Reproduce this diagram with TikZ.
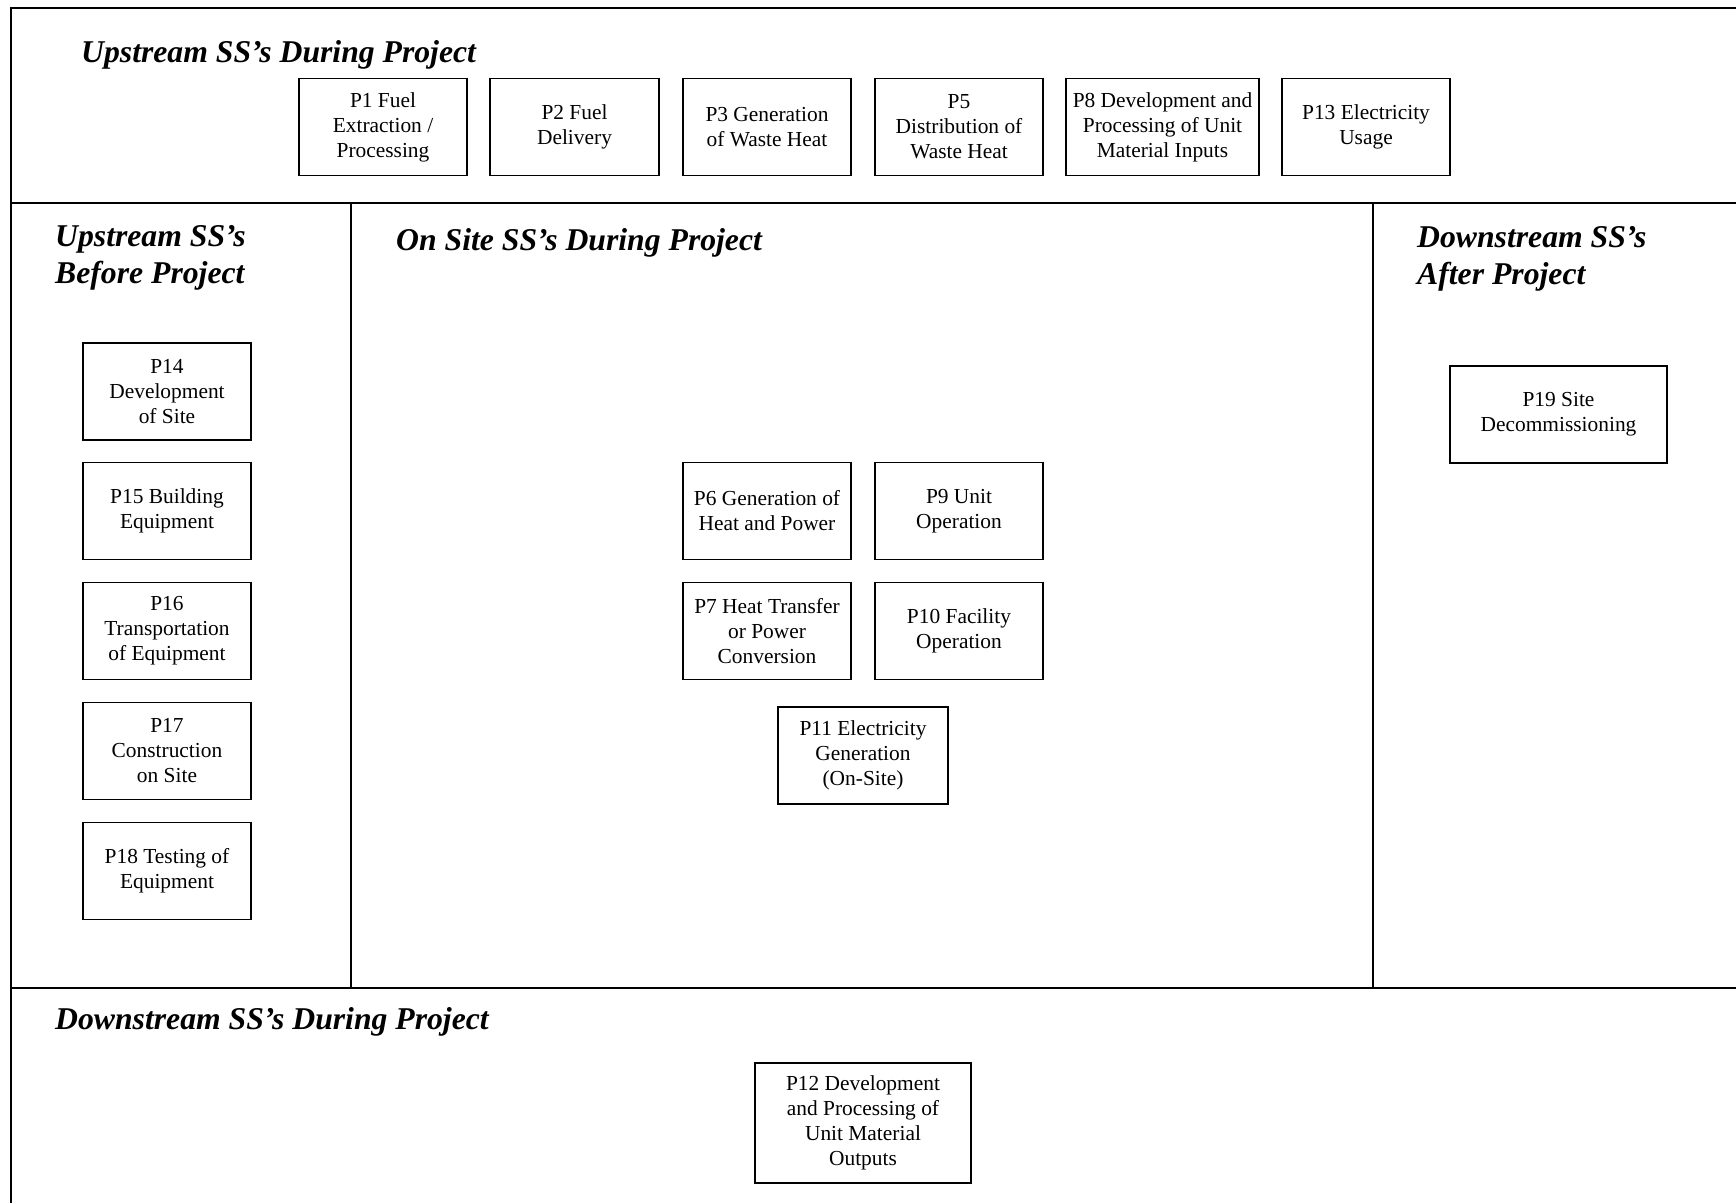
\documentclass[tikz,border=0pt]{standalone}
\usepackage{fontspec}
\setmainfont{Liberation Serif}
\begin{document}
\begin{tikzpicture}[x=1pt,y=-1pt,
  pbox/.style={draw, line width=1.8pt, align=center, inner sep=2pt,
    minimum width=168, minimum height=97,
    font=\fontsize{21.4}{25}\selectfont},
  heading/.style={anchor=base west, align=left, inner sep=0pt,
    font=\fontsize{31.7}{36.5}\selectfont\bfseries\itshape},
  frameline/.style={line width=2pt}]
\useasboundingbox (0,0) rectangle (1736,1203);
% frame coordinates
\coordinate (tl) at (11,7.7);
\coordinate (tr) at (1736,7.7);
\coordinate (bl) at (11,1203);
\coordinate (ml) at (11,202.6);
\coordinate (mr) at (1736,202.6);
\coordinate (ll) at (11,987.5);
\coordinate (lr) at (1736,987.5);
\coordinate (v1t) at (351,202.6);
\coordinate (v1b) at (351,987.5);
\coordinate (v2t) at (1373,202.6);
\coordinate (v2b) at (1373,987.5);
\draw[frameline] (tr) -- (tl) -- (bl);
\draw[frameline] (ml) -- (mr);
\draw[frameline] (ll) -- (lr);
\draw[frameline] (v1t) -- (v1b);
\draw[frameline] (v2t) -- (v2b);
% headings (base anchor = baseline of last line)
\node[heading] (h1) at (81,62) {Upstream SS’s During Project};
\node[heading] (h2) at (55,283) {Upstream SS’s\\Before Project};
\node[heading] (h3) at (396,250) {On Site SS’s During Project};
\node[heading] (h4) at (1417,284) {Downstream SS’s\\After Project};
\node[heading] (h5) at (55,1029) {Downstream SS’s During Project};
% top row
\node[pbox] (p1) at (383,127) {P1 Fuel\\Extraction /\\Processing};
\node[pbox, minimum width=169] (p2) at (574.5,127) {P2 Fuel\\Delivery};
\node[pbox] (p3) at (767,127) {P3 Generation\\of Waste Heat};
\node[pbox] (p5) at (959,127) {P5\\Distribution of\\Waste Heat};
\node[pbox, minimum width=193] (p8) at (1162.5,127) {P8 Development and\\Processing of Unit\\Material Inputs};
\node[pbox] (p13) at (1366,127) {P13 Electricity\\Usage};
% left column
\node[pbox] (p14) at (167,391.5) {P14\\Development\\of Site};
\node[pbox] (p15) at (167,511) {P15 Building\\Equipment};
\node[pbox] (p16) at (167,631) {P16\\Transportation\\of Equipment};
\node[pbox] (p17) at (167,751) {P17\\Construction\\on Site};
\node[pbox] (p18) at (167,871) {P18 Testing of\\Equipment};
% on site
\node[pbox] (p6) at (767,511) {P6 Generation of\\Heat and Power};
\node[pbox] (p9) at (959,511) {P9 Unit\\Operation};
\node[pbox] (p7) at (767,631) {P7 Heat Transfer\\or Power\\Conversion};
\node[pbox] (p10) at (959,631) {P10 Facility\\Operation};
\node[pbox, minimum width=170] (p11) at (863,755.5) {P11 Electricity\\Generation\\(On-Site)};
% downstream after
\node[pbox, minimum width=217] (p19) at (1558.5,414.5) {P19 Site\\Decommissioning};
% downstream during
\node[pbox, minimum width=216, minimum height=120] (p12) at (863,1123) {P12 Development\\and Processing of\\Unit Material\\Outputs};
\end{tikzpicture}
\end{document}
